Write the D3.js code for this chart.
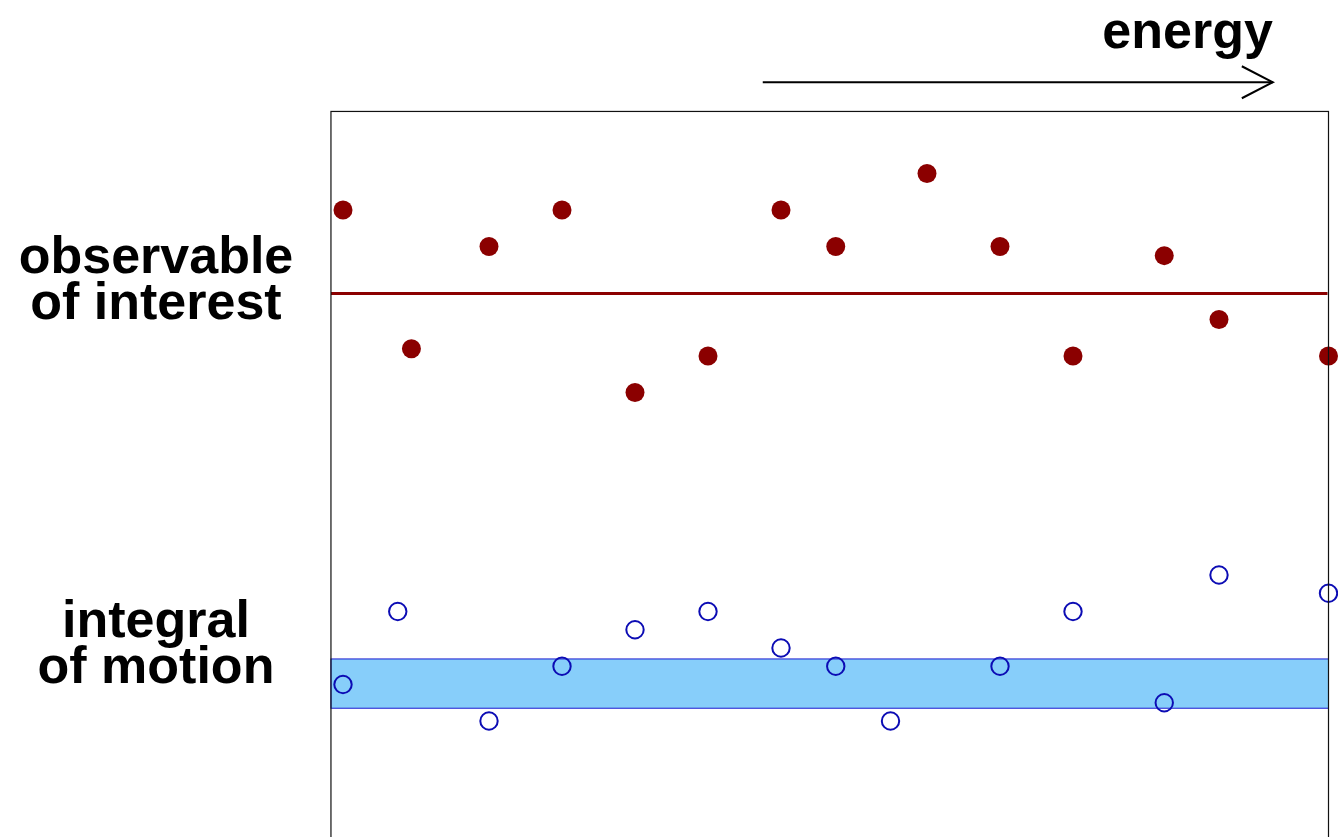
<!DOCTYPE html>
<html>
<head>
<meta charset="utf-8">
<script src="https://cdn.jsdelivr.net/npm/d3@7"></script>
<style>
  html, body { margin: 0; padding: 0; background: #fff; }
  svg { display: block; }
  text { font-family: "Liberation Sans", Arial, Helvetica, sans-serif; font-weight: bold; fill: #000; }
</style>
</head>
<body>
<svg id="chart" width="1338" height="837"></svg>
<script>
// ---- data ----
const energyRed   = [0, 3.75, 8, 12, 16, 20, 24, 27, 32, 36, 40, 45, 48, 54];
const observable  = [2, -1.8, 1, 2, -3, -2, 2, 1, 3, 1, -2, 0.75, -1, -2];
const observableLevel = -0.29;

const energyBlue  = [0, 3, 8, 12, 16, 20, 24, 27, 30, 36, 40, 45, 48, 54];
const integral    = [-11, -9, -12, -10.5, -9.5, -9, -10, -10.5, -12, -10.5, -9, -11.5, -8, -8.5];
const integralBand = [-11.65, -10.3];

const labelObservable = ["observable", "of interest"];
const labelIntegral   = ["integral", "of motion"];
const axisLabel = "energy";

const xFrame = [-0.66, 54];
const yFrame = [4.7, -17];
const arrowX = [23, 50.95];
const arrowY = 5.5;

// ---- scales ----
const x = d3.scaleLinear().domain([0, 54]).range([343, 1328.5]);
const y = d3.scaleLinear().domain([-12, 3]).range([721, 173.5]);

const svg = d3.select("#chart");

// band
svg.append("rect")
  .attr("x", x(xFrame[0])).attr("width", x(xFrame[1]) - x(xFrame[0]))
  .attr("y", y(integralBand[1])).attr("height", y(integralBand[0]) - y(integralBand[1]))
  .attr("fill", "#87cefa").attr("stroke", "#1a1ad0").attr("stroke-width", 1);

// mean line
svg.append("line")
  .attr("x1", x(xFrame[0])).attr("x2", x(xFrame[1]) - 1)
  .attr("y1", y(observableLevel)).attr("y2", y(observableLevel))
  .attr("stroke", "#8b0000").attr("stroke-width", 3);

// red dots
svg.append("g").selectAll("circle")
  .data(energyRed.map((e, i) => ({e, v: observable[i]})))
  .join("circle")
  .attr("cx", d => x(d.e)).attr("cy", d => y(d.v))
  .attr("r", 9.5).attr("fill", "#8b0000");

// blue open circles
svg.append("g").selectAll("circle")
  .data(energyBlue.map((e, i) => ({e, v: integral[i]})))
  .join("circle")
  .attr("cx", d => x(d.e)).attr("cy", d => y(d.v))
  .attr("r", 8.7).attr("fill", "none").attr("stroke", "#0c0cb4").attr("stroke-width", 2);

// frame
svg.append("rect")
  .attr("x", x(xFrame[0])).attr("y", y(yFrame[0]))
  .attr("width", x(xFrame[1]) - x(xFrame[0]))
  .attr("height", y(yFrame[1]) - y(yFrame[0]))
  .attr("fill", "none").attr("stroke", "#111").attr("stroke-width", 1.2);

// energy arrow
const ay = y(arrowY);
const ax0 = x(arrowX[0]), ax1 = x(arrowX[1]);
svg.append("line")
  .attr("x1", ax0).attr("x2", ax1).attr("y1", ay).attr("y2", ay)
  .attr("stroke", "#000").attr("stroke-width", 2);
svg.append("path")
  .attr("d", d3.line()([[ax1 - 31, ay - 16], [ax1, ay], [ax1 - 31, ay + 16]]))
  .attr("fill", "none").attr("stroke", "#000").attr("stroke-width", 2);
svg.append("text")
  .attr("x", ax1).attr("y", 48)
  .attr("text-anchor", "end").attr("font-size", 52)
  .text(axisLabel);

// left labels
function multiline(lines, baseline) {
  const t = svg.append("text")
    .attr("text-anchor", "middle").attr("font-size", 52);
  lines.forEach((s, i) => {
    t.append("tspan").attr("x", 156).attr("y", baseline + i * 46).text(s);
  });
}
multiline(labelObservable, 273);
multiline(labelIntegral, 637);
</script>
</body>
</html>
